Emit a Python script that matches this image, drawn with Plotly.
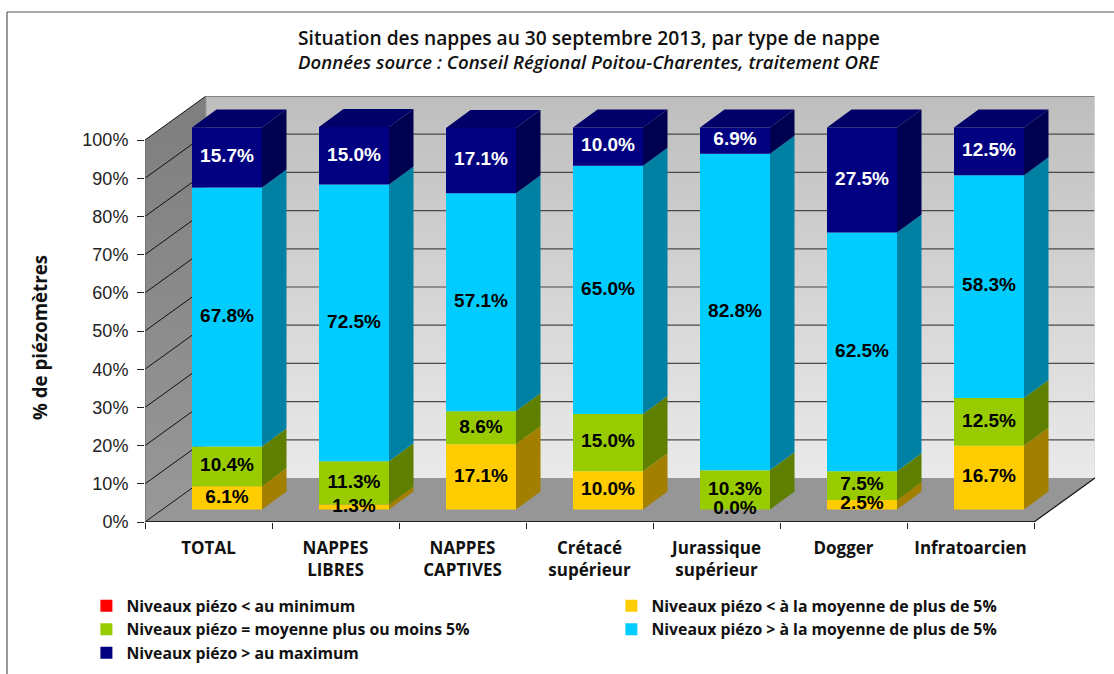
import plotly.graph_objects as go

categories = ["TOTAL", "NAPPES<br>LIBRES", "NAPPES<br>CAPTIVES", "Crétacé<br>supérieur",
              "Jurassique<br>supérieur", "Dogger", "Infratoarcien"]
val_min = [0, 0, 0, 0, 0, 0, 0]
val_low = [6.1, 1.3, 17.1, 10.0, 0.0, 2.5, 16.7]
val_mid = [10.4, 11.3, 8.6, 15.0, 10.3, 7.5, 12.5]
val_high = [67.8, 72.5, 57.1, 65.0, 82.8, 62.5, 58.3]
val_max = [15.7, 15.0, 17.1, 10.0, 6.9, 27.5, 12.5]
y_ticks = [0, 10, 20, 30, 40, 50, 60, 70, 80, 90, 100]

series = [
    ("Niveaux piézo < au minimum", val_min, "#FF0000", "#A00000", "black", "legend"),
    ("Niveaux piézo < à la moyenne de plus de 5%", val_low, "#FFCC00", "#A37F00", "black", "legend2"),
    ("Niveaux piézo = moyenne plus ou moins 5%", val_mid, "#99CC00", "#5F7F00", "black", "legend"),
    ("Niveaux piézo > à la moyenne de plus de 5%", val_high, "#00CCFF", "#0080A3", "black", "legend2"),
    ("Niveaux piézo > au maximum", val_max, "#000080", "#000050", "white", "legend"),
]

# Projection constants (oblique 3D look)
W, H = 1114, 674
PX_L, PX_R, PX_T, PX_B = 145, 1095, 96, 522
CAT_PX = 127.0
PCT_PX = 3.82
WALL_DX = 61 / CAT_PX
WALL_DY = 44 / PCT_PX
N = len(categories)
XMAX = (PX_R - PX_L) / CAT_PX
YMAX = (PX_B - PX_T) / PCT_PX
BAR_W = 70 / CAT_PX
BAR_CX = 82 / CAT_PX
BAR_LIFT = 12.5 / PCT_PX
SIDE_DX = 24.5 / CAT_PX
SIDE_DY = 18 / PCT_PX

fig = go.Figure()


def poly(xs, ys, color=None, **kw):
    fig.add_trace(go.Scatter(x=xs, y=ys, mode="lines", fill="toself", fillcolor=color,
                             line=dict(width=0), hoverinfo="skip", showlegend=False, **kw))


def line(xs, ys, color, width, axes=("x", "y")):
    fig.add_trace(go.Scatter(x=xs, y=ys, mode="lines", line=dict(color=color, width=width),
                             hoverinfo="skip", showlegend=False, xaxis=axes[0], yaxis=axes[1],
                             cliponaxis=False))


def px_x(p):
    return (p - PX_L) / (PX_R - PX_L)


def px_y(p):
    return (PX_B - p) / (PX_B - PX_T)


# Back wall
poly([WALL_DX, XMAX, XMAX, WALL_DX, WALL_DX], [WALL_DY, WALL_DY, YMAX, YMAX, WALL_DY],
     fillgradient=dict(type="vertical",
                       colorscale=[[0, "#EAEAEA"], [1, "#BEBEBE"]]))
# Side wall
poly([0, WALL_DX, WALL_DX, 0, 0], [0, WALL_DY, YMAX, 100, 0],
     fillgradient=dict(type="vertical",
                       colorscale=[[0, "#989898"], [1, "#7E7E7E"]]))
# Floor
poly([0, N, XMAX, WALL_DX, 0], [0, 0, WALL_DY, WALL_DY, 0], color="#969696")

# Grid lines
for t in y_ticks:
    if t > 0:
        line([WALL_DX, XMAX], [t + WALL_DY, t + WALL_DY], "#4A4A4A", 1.2)
    line([0, WALL_DX], [t, t + WALL_DY], "#111111", 1)
line([XMAX, XMAX], [WALL_DY, YMAX], "#D8D8D8", 1.5)
line([WALL_DX, WALL_DX], [WALL_DY, YMAX], "#9A9A9A", 1)
line([0, 0], [0, 100], "#666666", 1)
line([N, XMAX], [0, WALL_DY], "#111111", 1.2)
line([0, N], [0, 0], "#222222", 2)

# Stacked bars, each with side and top faces computed from the values
cum = [0.0] * N
for name, vals, col, side, txt, leg in series:
    base = [c + BAR_LIFT for c in cum]
    cx = [i + BAR_CX for i in range(N)]
    fig.add_trace(go.Bar(x=cx, y=vals, base=base, width=BAR_W, name=name, legend=leg,
                         marker=dict(color=col, line=dict(width=0)),
                         xaxis="x2", yaxis="y2", hoverinfo="skip"))
    for i in range(N):
        if vals[i] > 0:
            xr = cx[i] + BAR_W / 2
            poly([xr, xr + SIDE_DX, xr + SIDE_DX, xr, xr],
                 [base[i], base[i] + SIDE_DY, base[i] + vals[i] + SIDE_DY, base[i] + vals[i], base[i]],
                 color=side, xaxis="x2", yaxis="y2")
    cum = [c + v for c, v in zip(cum, vals)]

# Top faces
tops = [c + BAR_LIFT for c in cum]
for i in range(N):
    xl = i + BAR_CX - BAR_W / 2
    xr = xl + BAR_W
    poly([xl, xr, xr + SIDE_DX, xl + SIDE_DX, xl],
         [tops[i], tops[i], tops[i] + SIDE_DY, tops[i] + SIDE_DY, tops[i]],
         color="#000068", xaxis="x2", yaxis="y2")

# Data labels
cum = [0.0] * N
for name, vals, col, side, txt, leg in series:
    if any(v > 0 for v in vals):
        fig.add_trace(go.Scatter(
            x=[i + BAR_CX for i in range(N)],
            y=[c + BAR_LIFT + v / 2 for c, v in zip(cum, vals)],
            mode="text", text=[f"{v:.1f}%" for v in vals], textposition="middle center",
            textfont=dict(family="Liberation Sans", size=19, color=txt, weight="bold"),
            xaxis="x2", yaxis="y2", showlegend=False, hoverinfo="skip", cliponaxis=False))
    cum = [c + v for c, v in zip(cum, vals)]

UI_FONT = "Open Sans"
legend_style = dict(orientation="v", xref="paper", yref="container",
                    xanchor="left", yanchor="top",
                    font=dict(family=UI_FONT, size=15.8, color="#111111", weight="bold"),
                    bgcolor="rgba(0,0,0,0)", traceorder="normal")
LEG_Y = (H - 589) / H

fig.update_layout(
    width=W, height=H, autosize=False,
    margin=dict(l=PX_L, r=W - PX_R, t=PX_T, b=H - PX_B, pad=0),
    paper_bgcolor="white", plot_bgcolor="white", barmode="overlay",
    showlegend=True,
    legend=dict(x=px_x(86.4), y=LEG_Y, **legend_style),
    legend2=dict(x=px_x(611.4), y=LEG_Y, **legend_style),
    xaxis=dict(range=[0, XMAX], showgrid=False, zeroline=False, showline=False, automargin=False,
               tickmode="array", tickvals=[i + 0.5 for i in range(N)], ticktext=categories,
               ticks="", tickfont=dict(family=UI_FONT, size=17, color="#111111", weight="bold"),
               ticklabelstandoff=14,
               minor=dict(tickmode="array", tickvals=list(range(N + 1)), ticks="outside",
                          ticklen=6, tickcolor="#222222", tickwidth=1, showgrid=False)),
    yaxis=dict(range=[0, YMAX], showgrid=False, zeroline=False, showline=False, automargin=False,
               tickmode="array", tickvals=y_ticks, ticktext=[f"{t}%" for t in y_ticks],
               ticks="outside", ticklen=7, tickcolor="#222222", tickwidth=1,
               ticklabelstandoff=5,
               tickfont=dict(family="Liberation Sans", size=18, color="#222222")),
    xaxis2=dict(range=[0, XMAX], overlaying="x", visible=False),
    yaxis2=dict(range=[0, YMAX], overlaying="y", visible=False),
    shapes=[
        dict(type="line", xref="paper", yref="paper",
             x0=px_x(7), x1=px_x(W), y0=px_y(12), y1=px_y(12),
             line=dict(color="#555555", width=1.2)),
        dict(type="line", xref="paper", yref="paper",
             x0=px_x(7), x1=px_x(7), y0=px_y(12), y1=px_y(H),
             line=dict(color="#555555", width=1.2)),
    ],
    annotations=[
        dict(xref="paper", yref="paper", x=px_x(588.5), y=px_y(37), xanchor="center", yanchor="middle",
             text="Situation des nappes au 30 septembre 2013, par type de nappe", showarrow=False,
             font=dict(family=UI_FONT, size=19.2, color="#111111", weight=600)),
        dict(xref="paper", yref="paper", x=px_x(588.5), y=px_y(62), xanchor="center", yanchor="middle",
             text="<i>Données source : Conseil Régional Poitou-Charentes, traitement ORE</i>", showarrow=False,
             font=dict(family=UI_FONT, size=18.6, color="#111111", weight=600)),
        dict(xref="paper", yref="paper", x=px_x(39), y=px_y(338), xanchor="center", yanchor="middle",
             text="% de piézomètres", textangle=-90, showarrow=False,
             font=dict(family=UI_FONT, size=18.7, color="#111111", weight="bold")),
    ],
)

fig.write_html("out.html", config=dict(displayModeBar=False),
               post_script="document.body.style.margin='0';document.documentElement.style.overflow='hidden';")
